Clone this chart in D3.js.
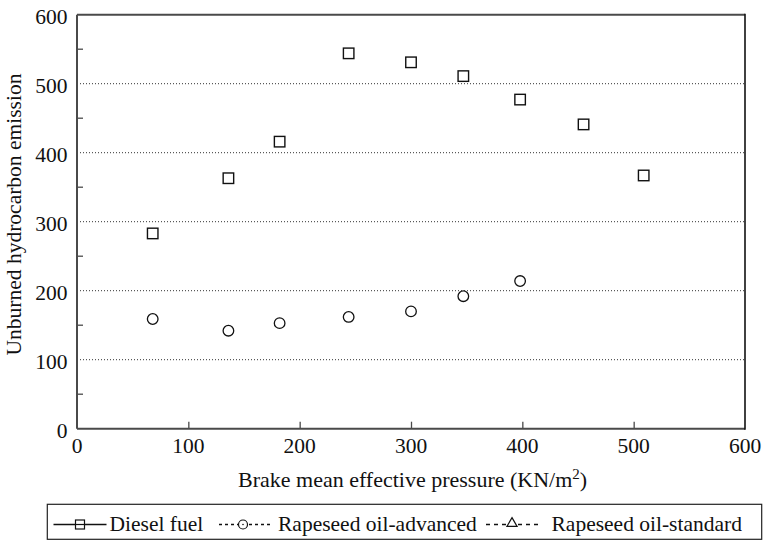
<!DOCTYPE html>
<html><head><meta charset="utf-8">
<script src="https://cdn.jsdelivr.net/npm/d3@7"></script>
<style>
html,body{margin:0;padding:0;background:#fff;}
text{font-family:"Liberation Serif","Times New Roman",serif;fill:#111;}
</style></head>
<body><svg id="chart" width="765" height="541"></svg>
<script>
// Data
const pressure = [68, 136, 182, 244, 300, 347, 398, 455, 509];
const dieselFuel = [283, 363, 416, 544, 531, 511, 477, 441, 367];
const rapeseedAdvanced = [159, 142, 153, 162, 170, 192, 214];
const rapeseedStandard = [];
const xTicks = [0, 100, 200, 300, 400, 500, 600];
const yTicks = [0, 100, 200, 300, 400, 500, 600];
const yMinorTicks = [50, 150, 250, 350, 450, 550];
const gridValues = [100, 200, 300, 400, 500];
const seriesNames = ["Diesel fuel", "Rapeseed oil-advanced", "Rapeseed oil-standard"];

const svg = d3.select("#chart");
const L = 77, R = 745, T = 14.7, B = 428.7;
const x = d3.scaleLinear().domain([0, 600]).range([L, R]);
const y = d3.scaleLinear().domain([0, 600]).range([B, T]);
const axisColor = "#4a4a4a";

// gridlines
svg.append("g").selectAll("line").data(gridValues).join("line")
  .attr("x1", L).attr("x2", R).attr("y1", d => y(d)).attr("y2", d => y(d))
  .attr("stroke", "#333").attr("stroke-width", 1).attr("stroke-dasharray", "1,2");

// minor y ticks (inside)
svg.append("g").selectAll("line").data(yMinorTicks).join("line")
  .attr("x1", L).attr("x2", L + 6).attr("y1", d => y(d)).attr("y2", d => y(d))
  .attr("stroke", axisColor).attr("stroke-width", 1.3);

// x axis (ticks inside)
const xAxis = d3.axisBottom(x).tickValues(xTicks.slice(1, -1)).tickSize(-7).tickFormat("");
const gx = svg.append("g").attr("transform", `translate(0,${B})`).call(xAxis);
gx.select(".domain").remove();
gx.selectAll(".tick line").attr("stroke", axisColor).attr("stroke-width", 1.3);

// tick labels
svg.append("g").selectAll("text").data(xTicks).join("text")
  .attr("x", d => x(d)).attr("y", B + 24).attr("text-anchor", "middle")
  .attr("font-size", 21.5).text(d => d);
svg.append("g").selectAll("text").data(yTicks).join("text")
  .attr("x", L - 9.5).attr("y", d => y(d) + 9).attr("text-anchor", "end")
  .attr("font-size", 21.5).text(d => d);

// frame
svg.append("line").attr("x1", L).attr("x2", R).attr("y1", T).attr("y2", T).attr("stroke", axisColor).attr("stroke-width", 2);
svg.append("line").attr("x1", L).attr("x2", R).attr("y1", B).attr("y2", B).attr("stroke", axisColor).attr("stroke-width", 2);
svg.append("line").attr("x1", L).attr("x2", L).attr("y1", T).attr("y2", B).attr("stroke", axisColor).attr("stroke-width", 2);
svg.append("line").attr("x1", R).attr("x2", R).attr("y1", T - 1).attr("y2", B + 1).attr("stroke", "#111").attr("stroke-width", 1.6);

// axis titles
const xt = svg.append("text").attr("x", 238).attr("y", 486.5).attr("font-size", 22);
xt.append("tspan").text("Brake mean effective pressure (KN/m");
xt.append("tspan").attr("dy", -8).attr("font-size", 15).text("2");
xt.append("tspan").attr("dy", 8).text(")");
svg.append("text").attr("transform", `translate(21,214.5) rotate(-90)`)
  .attr("text-anchor", "middle").attr("font-size", 21.5).text("Unburned hydrocarbon emission");

// series
const sq = 10.5;
svg.append("g").selectAll("rect").data(dieselFuel).join("rect")
  .attr("x", (d, i) => x(pressure[i]) - sq / 2).attr("y", d => y(d) - sq / 2)
  .attr("width", sq).attr("height", sq).attr("fill", "#fff").attr("stroke", "#111").attr("stroke-width", 1.4);
svg.append("g").selectAll("circle").data(rapeseedAdvanced).join("circle")
  .attr("cx", (d, i) => x(pressure[i])).attr("cy", d => y(d)).attr("r", 5.3)
  .attr("fill", "#fff").attr("stroke", "#111").attr("stroke-width", 1.3);
svg.append("g").selectAll("path").data(rapeseedStandard).join("path")
  .attr("transform", (d, i) => `translate(${x(pressure[i])},${y(d)})`)
  .attr("d", d3.symbol(d3.symbolTriangle, 60)).attr("fill", "#fff").attr("stroke", "#111");

// legend
const lg = svg.append("g");
lg.append("rect").attr("x", 47.3).attr("y", 504.3).attr("width", 714.4).attr("height", 35)
  .attr("fill", "none").attr("stroke", "#222").attr("stroke-width", 1.2);
const ly = 524.5;
const items = [
  {x1: 53.5, x2: 106.5, cx: 80, dash: null, sym: "square", tx: 109.5},
  {x1: 219, x2: 273, cx: 243, dash: "3,3", sym: "circle", tx: 278},
  {x1: 486, x2: 540, cx: 512, dash: "4,4", sym: "triangle", tx: 551.5}
];
items.forEach((it, i) => {
  lg.append("line").attr("x1", it.x1).attr("x2", it.x2).attr("y1", ly).attr("y2", ly)
    .attr("stroke", "#111").attr("stroke-width", 1.3).attr("stroke-dasharray", it.dash);
  if (it.sym === "square") {
    lg.append("rect").attr("x", it.cx - 4.5).attr("y", ly - 4.5).attr("width", 9).attr("height", 9)
      .attr("fill", "#fff").attr("stroke", "#111").attr("stroke-width", 1.2);
    lg.append("line").attr("x1", it.cx - 4.5).attr("x2", it.cx + 4.5).attr("y1", ly).attr("y2", ly).attr("stroke", "#111").attr("stroke-width", 1.2);
  } else if (it.sym === "circle") {
    lg.append("circle").attr("cx", it.cx).attr("cy", ly).attr("r", 4.5)
      .attr("fill", "#fff").attr("stroke", "#111").attr("stroke-width", 1.2);
    lg.append("circle").attr("cx", it.cx).attr("cy", ly).attr("r", 0.8).attr("fill", "#111");
  } else {
    lg.append("path").attr("transform", `translate(${it.cx},${ly - 1})`)
      .attr("d", d3.symbol(d3.symbolTriangle, 45)).attr("fill", "#fff").attr("stroke", "#111").attr("stroke-width", 1.2);
  }
  lg.append("text").attr("x", it.tx).attr("y", 531).attr("font-size", 21.5).text(seriesNames[i]);
});
</script></body></html>
